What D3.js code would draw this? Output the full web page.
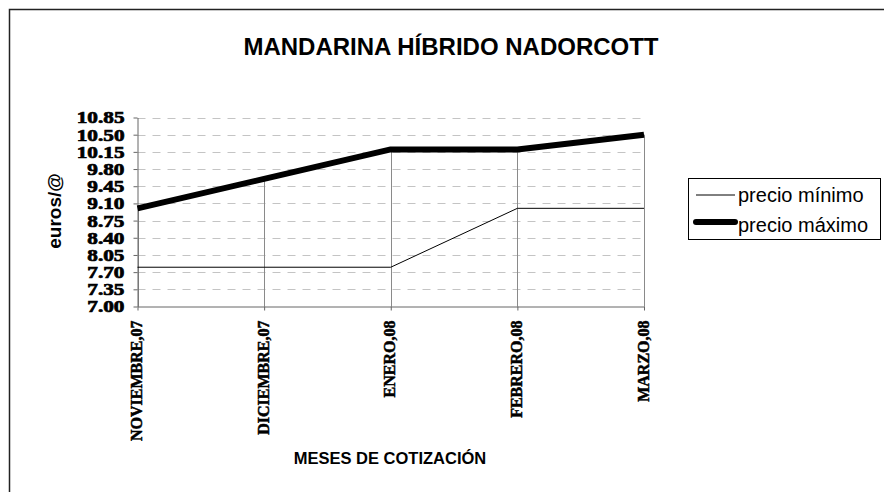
<!DOCTYPE html>
<html>
<head>
<meta charset="utf-8">
<script src="https://cdn.jsdelivr.net/npm/d3@7"></script>
<style>
  body { margin: 0; background: #fff; }
  svg { display: block; }
</style>
</head>
<body>
<script>
var months = ["NOVIEMBRE,07", "DICIEMBRE,07", "ENERO,08", "FEBRERO,08", "MARZO,08"];
var precioMinimo = [7.80, 7.80, 7.80, 9.00, 9.00];
var precioMaximo = [9.00, 9.60, 10.20, 10.20, 10.50];
var yTicks = [7.00, 7.35, 7.70, 8.05, 8.40, 8.75, 9.10, 9.45, 9.80, 10.15, 10.50, 10.85];

var W = 884, H = 492,
    sans = "'Liberation Sans', Arial, sans-serif",
    serif = "'Liberation Serif', 'Times New Roman', serif";

var svg = d3.select("body").append("svg")
    .attr("width", W)
    .attr("height", H);

svg.append("rect")
    .attr("width", W).attr("height", H).attr("fill", "#fff");

// outer frame (runs off the right and bottom edges)
svg.append("rect")
    .attr("x", 9.5).attr("y", 9.5)
    .attr("width", 900).attr("height", 500)
    .attr("fill", "none").attr("stroke", "#222").attr("stroke-width", 1.5);

var x = d3.scalePoint().domain(months).range([137.5, 644]),
    y = d3.scaleLinear().domain([7, 10.85]).range([306.5, 117.5]);

// horizontal dashed gridlines
svg.append("g").selectAll("line")
    .data(yTicks.slice(1))
  .enter().append("line")
    .attr("x1", x.range()[0]).attr("x2", x.range()[1])
    .attr("y1", d => Math.round(y(d)) + 0.5).attr("y2", d => Math.round(y(d)) + 0.5)
    .attr("stroke", "#c4c4c4").attr("stroke-dasharray", "8,7");

// drop lines from the highest series down to the axis
svg.append("g").selectAll("line")
    .data(months)
  .enter().append("line")
    .attr("x1", d => Math.round(x(d)) + 0.5).attr("x2", d => Math.round(x(d)) + 0.5)
    .attr("y1", (d, i) => y(precioMaximo[i])).attr("y2", y(7))
    .attr("stroke", "#8a8a8a");

// y axis
var yAxis = svg.append("g")
    .attr("transform", "translate(137.5,0)")
    .call(d3.axisLeft(y).tickValues(yTicks).tickSize(4).tickSizeOuter(0).tickFormat(d3.format(".2f")));
yAxis.select(".domain").attr("stroke", "#666");
yAxis.selectAll(".tick line").attr("stroke", "#666");
yAxis.selectAll(".tick text")
    .attr("font-family", serif).attr("font-weight", "bold").attr("font-size", 17)
    .attr("fill", "#000").attr("stroke", "#000").attr("stroke-width", 0.7)
    .attr("x", -13 / 1.25)
    .attr("transform", "scale(1.25,1)");

// x axis
var xAxis = svg.append("g")
    .attr("transform", "translate(0," + y(7) + ")")
    .call(d3.axisBottom(x).tickSize(4).tickSizeOuter(0));
xAxis.select(".domain").attr("stroke", "#666");
xAxis.selectAll(".tick line").attr("stroke", "#666");
xAxis.selectAll(".tick text")
    .attr("font-family", serif).attr("font-weight", "bold").attr("font-size", 16)
    .attr("fill", "#000").attr("stroke", "#000").attr("stroke-width", 0.5)
    .attr("text-anchor", "end")
    .attr("transform", "rotate(-90)")
    .attr("x", -14).attr("y", 4).attr("dy", 0);

// series
var line = d3.line().x((d, i) => x(months[i])).y(d => y(d));

svg.append("path")
    .datum(precioMinimo)
    .attr("d", line)
    .attr("fill", "none").attr("stroke", "#000").attr("stroke-width", 1);

svg.append("path")
    .datum(precioMaximo)
    .attr("d", line)
    .attr("fill", "none").attr("stroke", "#000").attr("stroke-width", 6)
    .attr("stroke-linejoin", "round");

// titles
svg.append("text")
    .attr("x", 451).attr("y", 55)
    .attr("text-anchor", "middle")
    .attr("font-family", sans).attr("font-weight", "bold").attr("font-size", 24)
    .text("MANDARINA HÍBRIDO NADORCOTT");

svg.append("text")
    .attr("x", 390).attr("y", 464)
    .attr("text-anchor", "middle")
    .attr("font-family", sans).attr("font-weight", "bold").attr("font-size", 16.5)
    .text("MESES DE COTIZACIÓN");

svg.append("text")
    .attr("transform", "translate(61,211) rotate(-90)")
    .attr("text-anchor", "middle")
    .attr("font-family", sans).attr("font-weight", "bold").attr("font-size", 19)
    .text("euros/@");

// legend
var legend = svg.append("g");
legend.append("rect")
    .attr("x", 688.5).attr("y", 178.5).attr("width", 192).attr("height", 61)
    .attr("fill", "#fff").attr("stroke", "#000");

var items = [
    {name: "precio mínimo", width: 1, ly: 195, ty: 202},
    {name: "precio máximo", width: 6, ly: 222, ty: 232}
];
items.forEach(function(it) {
    legend.append("line")
        .attr("x1", 696).attr("x2", 735)
        .attr("y1", it.ly).attr("y2", it.ly)
        .attr("stroke", "#000").attr("stroke-width", it.width)
        .attr("stroke-linecap", it.width > 1 ? "round" : "butt");
    legend.append("text")
        .attr("x", 738).attr("y", it.ty)
        .attr("font-family", sans).attr("font-size", 20)
        .text(it.name);
});
</script>
</body>
</html>
